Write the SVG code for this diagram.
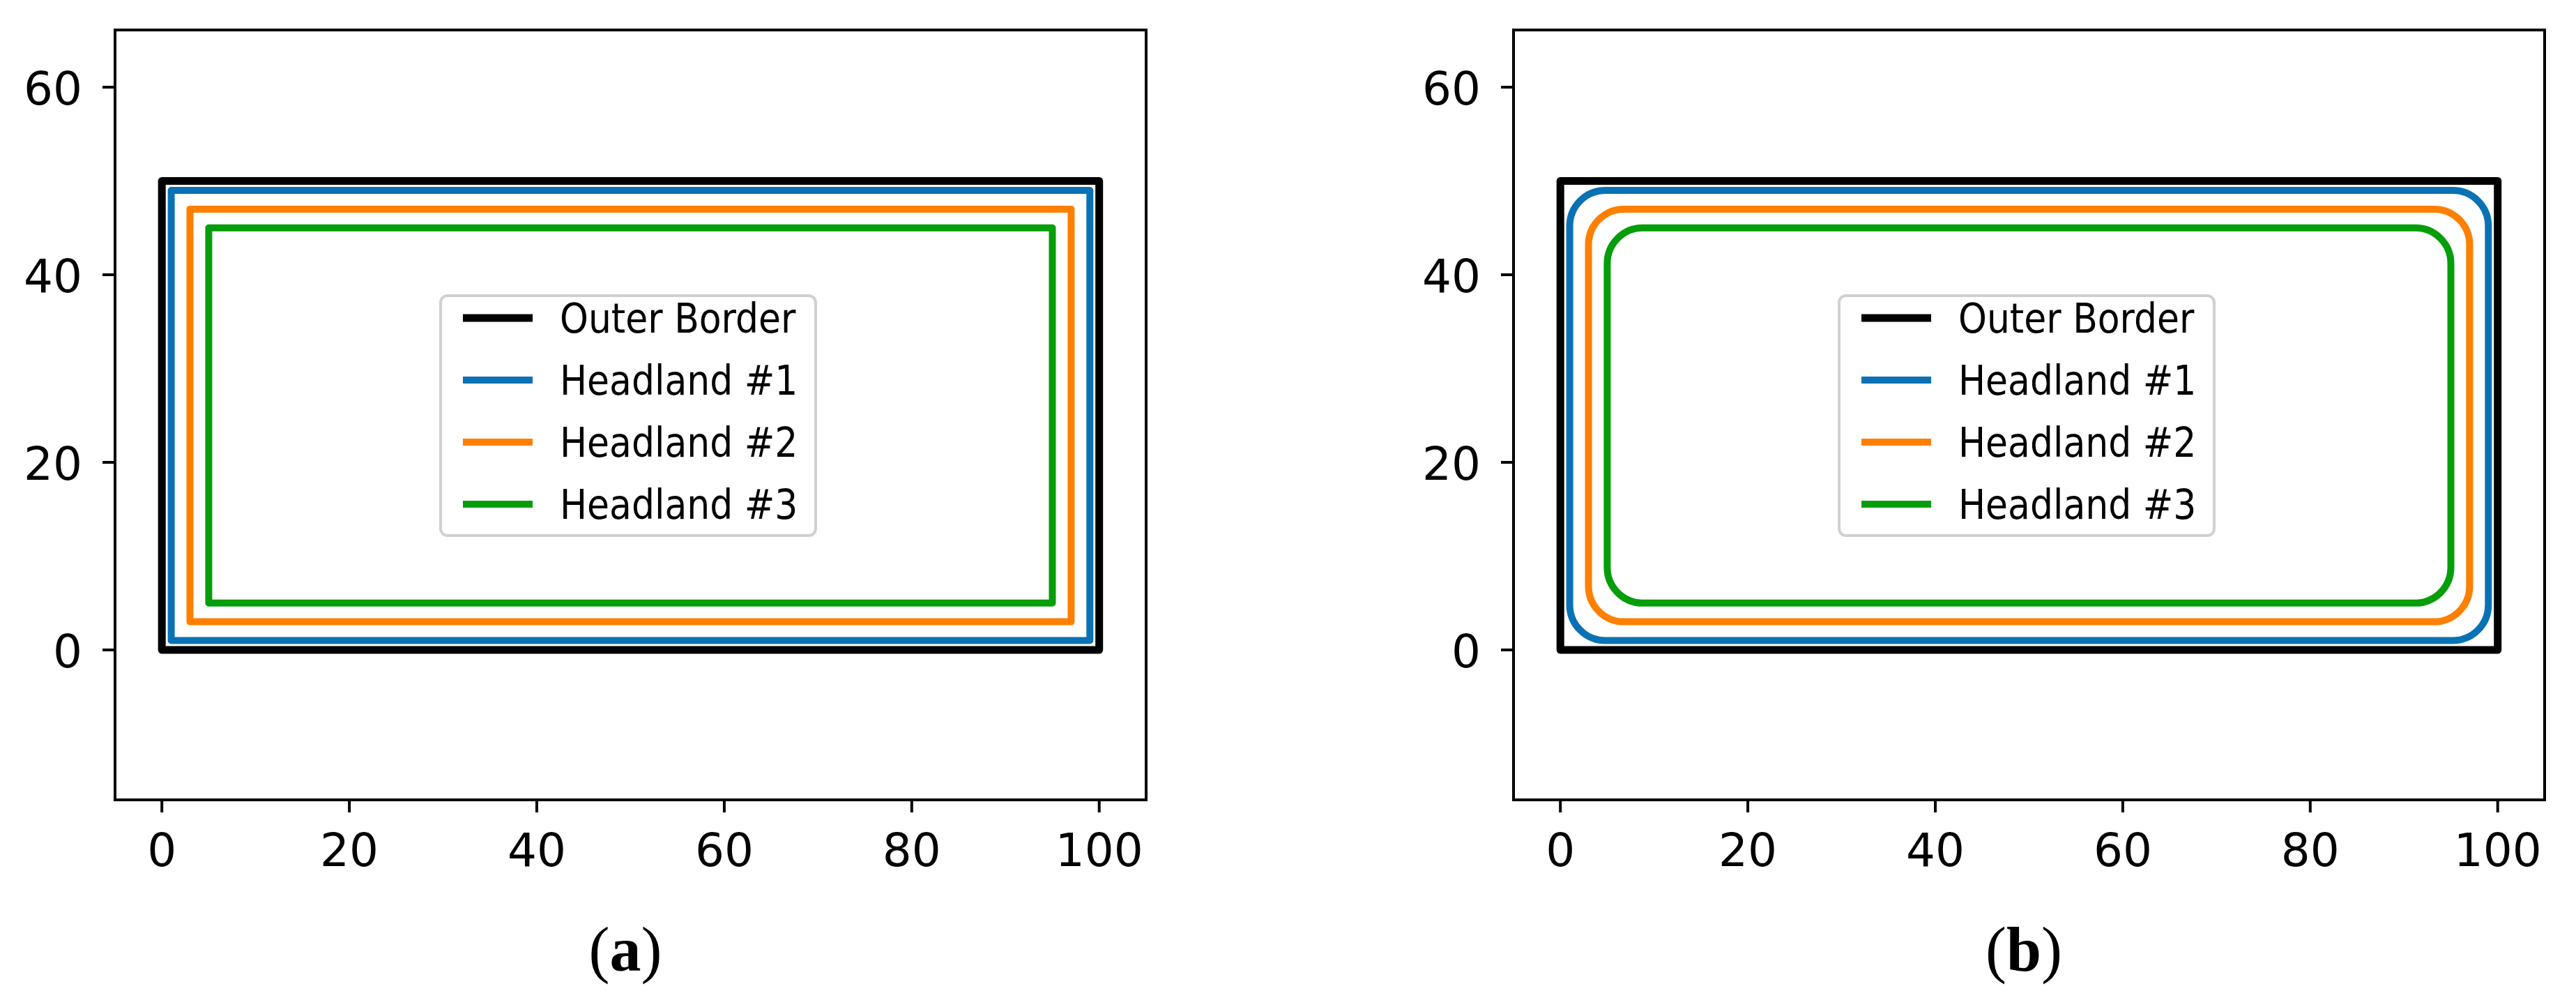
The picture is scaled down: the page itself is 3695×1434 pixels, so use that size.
<svg xmlns="http://www.w3.org/2000/svg" width="3695" height="1434" viewBox="0 0 3695 1434">
<style>
.frame{fill:none;stroke:#000;stroke-width:4;stroke-linejoin:miter}
.tick{stroke:#000;stroke-width:4}
.tl{font-family:"DejaVu Sans",sans-serif;font-size:66px;fill:#000}
.lg{font-family:"DejaVu Sans",sans-serif;font-size:52px;fill:#000}
.box{fill:#fff;fill-opacity:0.8;stroke:#d0d0d0;stroke-width:4}
.ln{fill:none;stroke-width:10;stroke-linejoin:round;stroke-linecap:butt}
.k{stroke:#000;stroke-width:11}
.b{stroke:#0a72b4}
.o{stroke:#ff7f00}
.g{stroke:#059e0a}
.cap{font-family:"Liberation Serif","Times New Roman",serif;font-size:90px;fill:#000}
</style>
<rect width="3695" height="1434" fill="#fff"/>

<g id="panel-a">
  <rect class="frame" x="165" y="43" width="1479" height="1104"/>
  <g id="a-xticks">
    <line class="tick" x1="232.2" y1="1147" x2="232.2" y2="1165"/>
    <line class="tick" x1="501.1" y1="1147" x2="501.1" y2="1165"/>
    <line class="tick" x1="770" y1="1147" x2="770" y2="1165"/>
    <line class="tick" x1="1038.9" y1="1147" x2="1038.9" y2="1165"/>
    <line class="tick" x1="1307.8" y1="1147" x2="1307.8" y2="1165"/>
    <line class="tick" x1="1576.7" y1="1147" x2="1576.7" y2="1165"/>
    <text class="tl" x="232.2" y="1242" text-anchor="middle">0</text>
    <text class="tl" x="501.1" y="1242" text-anchor="middle">20</text>
    <text class="tl" x="770" y="1242" text-anchor="middle">40</text>
    <text class="tl" x="1038.9" y="1242" text-anchor="middle">60</text>
    <text class="tl" x="1307.8" y="1242" text-anchor="middle">80</text>
    <text class="tl" x="1576.7" y="1242" text-anchor="middle">100</text>
  </g>
  <g id="a-yticks">
    <line class="tick" x1="147" y1="932" x2="165" y2="932"/>
    <line class="tick" x1="147" y1="663" x2="165" y2="663"/>
    <line class="tick" x1="147" y1="394" x2="165" y2="394"/>
    <line class="tick" x1="147" y1="125" x2="165" y2="125"/>
    <text class="tl" x="118" y="957" text-anchor="end">0</text>
    <text class="tl" x="118" y="688" text-anchor="end">20</text>
    <text class="tl" x="118" y="419" text-anchor="end">40</text>
    <text class="tl" x="118" y="150" text-anchor="end">60</text>
  </g>
  <g id="a-lines">
    <rect class="ln k" x="232.2" y="259.5" width="1344.5" height="672.5"/>
    <rect class="ln b" x="245.6" y="273" width="1317.7" height="645.5"/>
    <rect class="ln o" x="272.5" y="299.9" width="1263.9" height="591.7"/>
    <rect class="ln g" x="299.4" y="326.8" width="1210.1" height="538"/>
  </g>
  <g id="a-legend">
    <rect class="box" x="632" y="424" width="538" height="344" rx="10"/>
    <line class="ln k" x1="664" y1="456" x2="764" y2="456"/>
    <line class="ln b" x1="664" y1="545" x2="764" y2="545"/>
    <line class="ln o" x1="664" y1="634" x2="764" y2="634"/>
    <line class="ln g" x1="664" y1="723" x2="764" y2="723"/>
    <text class="lg" transform="translate(803,477) scale(1,1.13)">Outer Border</text>
    <text class="lg" transform="translate(803,566) scale(1,1.13)">Headland #1</text>
    <text class="lg" transform="translate(803,655) scale(1,1.13)">Headland #2</text>
    <text class="lg" transform="translate(803,744) scale(1,1.13)">Headland #3</text>
  </g>
  <text class="cap" x="897" y="1392" text-anchor="middle">(<tspan font-weight="bold">a</tspan>)</text>
</g>

<g id="panel-b">
  <rect class="frame" x="2171" y="43" width="1479" height="1104"/>
  <g id="b-xticks">
    <line class="tick" x1="2238.2" y1="1147" x2="2238.2" y2="1165"/>
    <line class="tick" x1="2507.1" y1="1147" x2="2507.1" y2="1165"/>
    <line class="tick" x1="2776" y1="1147" x2="2776" y2="1165"/>
    <line class="tick" x1="3044.9" y1="1147" x2="3044.9" y2="1165"/>
    <line class="tick" x1="3313.8" y1="1147" x2="3313.8" y2="1165"/>
    <line class="tick" x1="3582.7" y1="1147" x2="3582.7" y2="1165"/>
    <text class="tl" x="2238.2" y="1242" text-anchor="middle">0</text>
    <text class="tl" x="2507.1" y="1242" text-anchor="middle">20</text>
    <text class="tl" x="2776" y="1242" text-anchor="middle">40</text>
    <text class="tl" x="3044.9" y="1242" text-anchor="middle">60</text>
    <text class="tl" x="3313.8" y="1242" text-anchor="middle">80</text>
    <text class="tl" x="3582.7" y="1242" text-anchor="middle">100</text>
  </g>
  <g id="b-yticks">
    <line class="tick" x1="2153" y1="932" x2="2171" y2="932"/>
    <line class="tick" x1="2153" y1="663" x2="2171" y2="663"/>
    <line class="tick" x1="2153" y1="394" x2="2171" y2="394"/>
    <line class="tick" x1="2153" y1="125" x2="2171" y2="125"/>
    <text class="tl" x="2124" y="957" text-anchor="end">0</text>
    <text class="tl" x="2124" y="688" text-anchor="end">20</text>
    <text class="tl" x="2124" y="419" text-anchor="end">40</text>
    <text class="tl" x="2124" y="150" text-anchor="end">60</text>
  </g>
  <g id="b-lines">
    <rect class="ln k" x="2238.2" y="259.5" width="1344.5" height="672.5"/>
    <rect class="ln b" x="2251.6" y="273" width="1317.7" height="645.5" rx="51" ry="51"/>
    <rect class="ln o" x="2278.5" y="299.9" width="1263.9" height="591.7" rx="51" ry="51"/>
    <rect class="ln g" x="2305.4" y="326.8" width="1210.1" height="538" rx="51" ry="51"/>
  </g>
  <g id="b-legend">
    <rect class="box" x="2638" y="424" width="538" height="344" rx="10"/>
    <line class="ln k" x1="2670" y1="456" x2="2770" y2="456"/>
    <line class="ln b" x1="2670" y1="545" x2="2770" y2="545"/>
    <line class="ln o" x1="2670" y1="634" x2="2770" y2="634"/>
    <line class="ln g" x1="2670" y1="723" x2="2770" y2="723"/>
    <text class="lg" transform="translate(2809,477) scale(1,1.13)">Outer Border</text>
    <text class="lg" transform="translate(2809,566) scale(1,1.13)">Headland #1</text>
    <text class="lg" transform="translate(2809,655) scale(1,1.13)">Headland #2</text>
    <text class="lg" transform="translate(2809,744) scale(1,1.13)">Headland #3</text>
  </g>
  <text class="cap" x="2903" y="1392" text-anchor="middle">(<tspan font-weight="bold">b</tspan>)</text>
</g>
</svg>
